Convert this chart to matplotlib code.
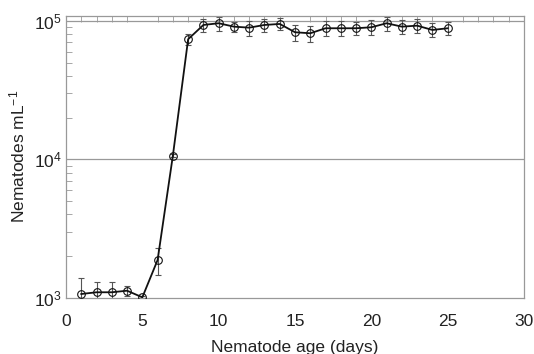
import matplotlib
matplotlib.use("Agg")
import matplotlib.pyplot as plt
from matplotlib.ticker import FixedLocator, MultipleLocator, NullFormatter

plt.rcParams['font.family'] = ['Liberation Sans', 'DejaVu Sans']
plt.rcParams['mathtext.default'] = 'regular'

days = [1, 2, 3, 4, 5, 6, 7, 8, 9, 10, 11, 12, 13, 14, 15, 16, 17, 18, 19, 20, 21, 22, 23, 24, 25]
nematodes = [1060, 1091, 1091, 1120, 1003, 1867, 10610, 73770, 93560, 96250, 90950, 89440,
             93560, 95140, 82850, 81470, 88550, 88550, 88550, 90040, 96250, 90950, 92470,
             86080, 88550]
errors = [317, 210, 210, 100, 30, 420, 300, 6400, 10000, 11000, 7500, 11000, 10300, 9700,
          11000, 11000, 11000, 11000, 9800, 10800, 11000, 10600, 10500, 10000, 10000]

x_ticks = [0, 5, 10, 15, 20, 25, 30]
y_ticks = [1e3, 1e4, 1e5]
y_ticklabels = ['10$^{3}$', '10$^{4}$', '10$^{5}$']

fig = plt.figure(figsize=(5.34, 3.54), dpi=100)
ax = fig.add_axes([0.1236, 0.1596, 0.8577, 0.7952])

ax.errorbar(days, nematodes, yerr=errors, fmt='none', ecolor='#555555',
            elinewidth=0.8, capsize=2, capthick=0.8, zorder=2)
ax.plot(days, nematodes, color='#111111', lw=1.3, marker='o', markersize=5.5,
        markerfacecolor='none', markeredgecolor='#111111', markeredgewidth=0.8, zorder=3)

ax.set_yscale('log')
ax.set_xlim(0, 30)
ax.set_ylim(1000, 108600)

ax.set_xticks(x_ticks)
ax.set_xticklabels([str(t) for t in x_ticks], fontsize=12.5)
ax.set_yticks(y_ticks)
ax.set_yticklabels(y_ticklabels, fontsize=12.5)
ax.yaxis.set_minor_locator(FixedLocator([m * 10 ** e for e in (3, 4) for m in range(2, 10)]))
ax.yaxis.set_minor_formatter(NullFormatter())

ax.tick_params(axis='x', which='major', length=0, pad=12, colors='#222222')
ax.tick_params(axis='y', which='major', length=0, pad=3, colors='#222222')
ax.tick_params(axis='y', which='minor', direction='in', length=4, width=0.6, color='#999999',
               left=True, right=False)
for lbl in ax.get_yticklabels():
    lbl.set_verticalalignment('center_baseline')

# top ticks every day
ax.xaxis.set_minor_locator(MultipleLocator(1))
ax.tick_params(axis='x', which='minor', direction='in', length=4, width=0.6, color='#999999',
               top=True, bottom=False)

for yv in (1e4, 1e5):
    ax.axhline(yv, color='#999999', lw=0.9, zorder=1)

for s in ax.spines.values():
    s.set_color('#999999')
    s.set_linewidth(0.9)

ax.set_xlabel('Nematode age (days)', fontsize=12.5, color='#222222', labelpad=8)
ax.set_ylabel('Nematodes mL$^{-1}$', fontsize=12.5, color='#222222', labelpad=5)

fig.savefig('out.png', dpi=100)
